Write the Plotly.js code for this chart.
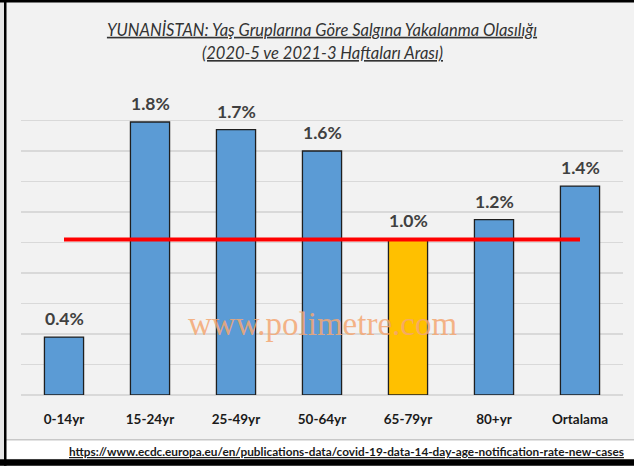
<!DOCTYPE html>
<html>
<head>
<meta charset="utf-8">
<script src="https://cdn.plot.ly/plotly-3.0.1.min.js"></script>
<style>html,body{margin:0;padding:0;background:#fff;}#chart{width:634px;height:466px;}</style>
</head>
<body>
<div id="chart"></div>
<script>
var categories = ["0-14yr", "15-24yr", "25-49yr", "50-64yr", "65-79yr", "80+yr", "Ortalama"];
var values = [0.38, 1.79, 1.74, 1.60, 1.02, 1.15, 1.37];
var labels = ["0.4%", "1.8%", "1.7%", "1.6%", "1.0%", "1.2%", "1.4%"];
var barColors = ["#5b9bd5", "#5b9bd5", "#5b9bd5", "#5b9bd5", "#ffc000", "#5b9bd5", "#5b9bd5"];
var refLineX = ["0-14yr", "Ortalama"];
var refLineY = [1.02, 1.02];

var FONT = "Lato, 'Open Sans', sans-serif";

var bars = {
  type: "bar",
  x: categories,
  y: values,
  marker: {color: barColors, line: {color: "#1f1f1f", width: 1.3}},
  hoverinfo: "none",
  showlegend: false
};
var refLine = {
  type: "scatter",
  mode: "lines",
  x: refLineX,
  y: refLineY,
  line: {color: "#ff0000", width: 4},
  hoverinfo: "none",
  showlegend: false
};

function px(x) { return (x - 21) / 602; }
function py(y) { return (395.3 - y) / 305.3; }

var annotations = categories.map(function (c, i) {
  return {
    x: c, y: values[i], xref: "x", yref: "y",
    text: "<b>" + labels[i] + "</b>",
    showarrow: false, yanchor: "bottom", yshift: 6,
    font: {family: FONT, size: 17.5, color: "#404040"}
  };
});
annotations.push({
  x: 0.5, xref: "paper", y: py(53), yref: "paper",
  xanchor: "center", yanchor: "middle",
  text: "<i><u>(2020-5 ve 2021-3 Haftaları Arası)</u></i>", showarrow: false,
  font: {family: FONT, size: 16.5, color: "#333333"}
});
annotations.push({
  x: 0.5, xref: "paper", y: py(324), yref: "paper",
  xanchor: "center", yanchor: "middle",
  text: "www.polimetre.com", showarrow: false,
  font: {family: "'Liberation Serif', 'DejaVu Serif', serif", size: 33, color: "rgba(244,167,115,0.85)"}
});
annotations.push({
  x: px(346), xref: "paper", y: py(452), yref: "paper",
  xanchor: "center", yanchor: "middle",
  text: "<b><u>https://www.ecdc.europa.eu/en/publications-data/covid-19-data-14-day-age-notification-rate-new-cases</u></b>",
  showarrow: false,
  font: {family: FONT, size: 11.8, color: "#1a1a1a"}
});

var shapes = [
  {type: "rect", xref: "paper", yref: "paper", x0: px(0), x1: px(634), y0: py(440), y1: py(459), fillcolor: "#ffffff", line: {width: 0}, layer: "below"},
  {type: "line", xref: "paper", yref: "paper", x0: px(6), x1: px(634), y0: py(440), y1: py(440), line: {color: "#c8c8c8", width: 1.5}},
  {type: "rect", xref: "paper", yref: "paper", x0: px(0), x1: px(4), y0: py(0), y1: py(466), fillcolor: "#e6e6e6", line: {width: 0}},
  {type: "rect", xref: "paper", yref: "paper", x0: px(4), x1: px(6.5), y0: py(0), y1: py(466), fillcolor: "#000000", line: {width: 0}},
  {type: "rect", xref: "paper", yref: "paper", x0: px(0), x1: px(634), y0: py(0), y1: py(2.5), fillcolor: "#000000", line: {width: 0}},
  {type: "rect", xref: "paper", yref: "paper", x0: px(0), x1: px(634), y0: py(459.5), y1: py(466), fillcolor: "#000000", line: {width: 0}}
];

var layout = {
  width: 634, height: 466,
  margin: {l: 21, r: 11, t: 90, b: 71, pad: 0},
  paper_bgcolor: "#f2f2f2",
  plot_bgcolor: "#f2f2f2",
  bargap: 0.545,
  title: {
    text: "<i><u>YUNANİSTAN: Yaş Gruplarına Göre Salgına Yakalanma Olasılığı</u></i>",
    font: {family: FONT, size: 16.5, color: "#333333"},
    x: 0.5, xref: "paper", xanchor: "center",
    y: 1 - 30 / 466, yref: "container", yanchor: "middle"
  },
  xaxis: {
    type: "category",
    tickfont: {family: FONT, size: 13.5, color: "#1a1a1a"},
    tickprefix: "<b>", ticksuffix: "</b>",
    showline: false, ticks: "", showgrid: false,
    fixedrange: true, ticklabelstandoff: 14
  },
  yaxis: {
    range: [0, 2.0], dtick: 0.2, tick0: 0,
    showticklabels: false, ticks: "",
    showgrid: true, gridcolor: "#d9d9d9", gridwidth: 1.5,
    zeroline: true, zerolinecolor: "#d9d9d9", zerolinewidth: 1.5,
    showline: false, fixedrange: true
  },
  annotations: annotations,
  shapes: shapes
};

Plotly.newPlot("chart", [bars, refLine], layout, {displayModeBar: false, staticPlot: true});
</script>
</body>
</html>
